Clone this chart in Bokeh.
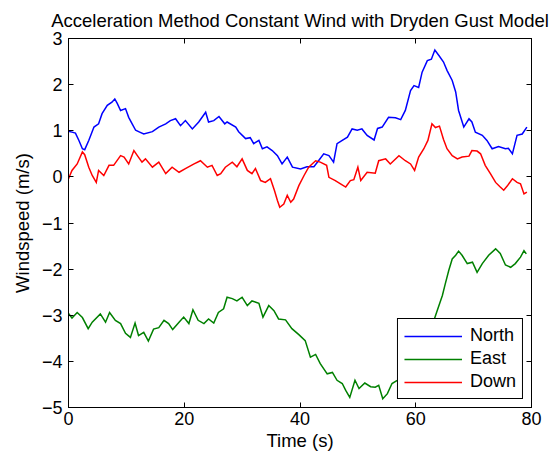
from bokeh.plotting import figure
from bokeh.models import (Range1d, FixedTicker, LinearAxis, Legend, LegendItem,
                          CustomJSTickFormatter)
from bokeh.embed import file_html
from bokeh.resources import INLINE

# Wind components (m/s) sampled along the time axis (s)
t_north = [0, 0.6, 1.2, 1.8, 2.4, 2.8, 3.5, 4.0, 4.4, 5.2, 5.8, 6.7, 7.5, 8.0, 8.4,
           9.0, 9.85, 10.4, 11.0, 11.6, 12.3, 13.0, 14.5, 15.6, 16.8, 17.6, 18.5,
           19.35, 20.2, 21.4, 22.5, 23.7, 24.2, 25.1, 26.0, 27.0, 27.4, 28.9, 29.4,
           30.6, 31.4, 32.0, 32.9, 33.5, 34.3, 35.2, 36.1, 36.9, 37.8, 38.7, 40.1,
           41.2, 42.4, 43.2, 44.1, 45.0, 45.8, 46.4, 47.3, 48.2, 49.0, 49.9, 50.7,
           51.6, 52.8, 53.4, 54.2, 55.3, 56.5, 57.4, 58.2, 59.1, 59.7, 60.5, 61.1,
           62.0, 62.7, 63.3, 64.0, 64.8, 65.4, 66.3, 66.9, 67.4, 68.3, 69.2, 69.7,
           70.3, 71.5, 72.3, 73.2, 74.3, 75.5, 76.0, 76.7, 77.5, 78.4, 79.2]
north = [0.99, 0.97, 0.95, 0.79, 0.61, 0.59, 0.79, 0.95, 1.08, 1.15, 1.37, 1.55, 1.62,
         1.69, 1.60, 1.44, 1.48, 1.29, 1.15, 1.01, 0.97, 0.93, 0.98, 1.08, 1.15, 1.22,
         1.26, 1.11, 1.22, 1.04, 1.19, 1.40, 1.19, 1.22, 1.31, 1.15, 1.19, 1.08, 0.98,
         0.83, 0.85, 0.72, 0.79, 0.61, 0.65, 0.57, 0.46, 0.28, 0.43, 0.21, 0.17, 0.22,
         0.22, 0.35, 0.50, 0.46, 0.32, 0.72, 0.79, 0.86, 1.04, 1.01, 1.04, 0.90, 0.80,
         1.05, 1.08, 1.29, 1.28, 1.24, 1.44, 1.87, 1.98, 1.94, 2.27, 2.52, 2.55, 2.75,
         2.63, 2.49, 2.31, 2.09, 1.84, 1.44, 1.08, 1.26, 1.19, 0.97, 0.90, 0.79, 0.61,
         0.66, 0.61, 0.62, 0.50, 0.90, 0.93, 1.08]

t_east = [0, 0.6, 1.5, 2.4, 3.4, 4.1, 5.5, 6.4, 7.1, 8.1, 9.0, 9.85, 10.7, 11.5, 12.1,
          13.0, 13.8, 14.7, 15.6, 16.5, 17.3, 18.0, 19.1, 19.9, 20.8, 21.5, 22.4, 23.4,
          24.2, 25.1, 25.9, 26.8, 27.4, 28.3, 29.1, 30.0, 30.9, 31.7, 32.9, 33.6, 34.6,
          35.5, 36.3, 37.5, 38.6, 39.8, 40.9, 41.8, 42.7, 43.5, 44.7, 45.6, 46.4, 47.3,
          47.9, 48.6, 49.5, 50.2, 51.2, 52.2, 53.0, 53.6, 54.3, 55.1, 55.9, 56.8, 58.0,
          59.0, 60.0, 61.0, 62.0, 62.9, 63.7, 64.6, 65.1, 65.7, 66.3, 66.9, 67.4, 68.0,
          68.9, 69.8, 70.6, 71.5, 72.6, 73.8, 74.6, 75.5, 76.4, 77.2, 78.1, 78.7, 79.1]
east = [-2.96, -3.06, -2.94, -3.05, -3.29, -3.15, -2.97, -3.15, -2.94, -3.11, -3.18,
        -3.39, -3.48, -3.17, -3.44, -3.37, -3.56, -3.30, -3.27, -3.11, -3.18, -3.31,
        -3.15, -3.04, -3.18, -2.88, -3.11, -3.18, -3.08, -3.17, -2.94, -2.86, -2.61,
        -2.64, -2.69, -2.61, -2.79, -2.69, -2.74, -3.04, -2.79, -2.90, -3.08, -3.10,
        -3.29, -3.42, -3.55, -3.91, -3.85, -4.05, -4.27, -4.24, -4.41, -4.48, -4.63,
        -4.78, -4.41, -4.59, -4.47, -4.55, -4.56, -4.52, -4.81, -4.70, -4.48, -4.41,
        -4.30, -4.10, -3.90, -3.70, -3.45, -3.20, -2.90, -2.57, -2.32, -2.03, -1.78,
        -1.70, -1.61, -1.70, -1.88, -1.85, -2.07, -1.88, -1.70, -1.56, -1.66, -1.91,
        -1.96, -1.88, -1.74, -1.60, -1.67]

t_down = [0, 0.6, 1.5, 2.4, 2.8, 3.5, 4.1, 4.8, 5.2, 6.1, 7.0, 7.8, 9.0, 9.6, 10.4,
          11.3, 11.9, 12.7, 13.3, 14.5, 15.6, 16.8, 17.9, 19.1, 20.2, 21.7, 22.8, 24.0,
          24.8, 25.7, 26.3, 27.1, 28.3, 29.1, 30.0, 30.9, 31.7, 32.3, 33.2, 34.0, 34.9,
          35.6, 36.1, 36.5, 37.2, 37.8, 38.4, 38.9, 39.8, 40.7, 41.5, 42.7, 43.5, 44.6,
          45.0, 46.1, 47.0, 47.9, 48.7, 49.3, 50.0, 50.5, 51.6, 53.0, 53.6, 54.8, 55.6,
          57.1, 58.2, 59.1, 59.8, 60.5, 61.4, 62.1, 62.8, 63.4, 64.1, 64.8, 65.4, 66.3,
          67.2, 68.0, 69.2, 69.7, 70.6, 71.2, 72.0, 72.9, 73.8, 74.6, 75.2, 75.8, 76.7,
          77.5, 78.1, 78.7, 79.2]
down = [-0.04, 0.14, 0.28, 0.54, 0.48, 0.21, 0.03, -0.12, 0.14, 0.03, 0.25, 0.25, 0.46,
        0.43, 0.28, 0.57, 0.46, 0.32, 0.39, 0.21, 0.32, 0.07, 0.21, 0.10, 0.18, 0.28,
        0.35, 0.21, 0.25, 0.03, 0.07, 0.21, 0.32, 0.22, 0.39, 0.14, 0.07, 0.18, -0.08,
        -0.12, -0.04, -0.30, -0.51, -0.66, -0.59, -0.40, -0.55, -0.48, -0.19, 0.03,
        0.21, 0.35, 0.32, 0.25, -0.01, -0.08, -0.15, -0.22, -0.08, -0.06, 0.21, -0.08,
        0.10, 0.08, 0.35, 0.39, 0.28, 0.46, 0.35, 0.28, 0.14, 0.43, 0.61, 0.79, 1.15,
        1.07, 1.10, 0.81, 0.61, 0.46, 0.39, 0.43, 0.45, 0.57, 0.56, 0.50, 0.25, 0.07,
        -0.12, -0.22, -0.29, -0.20, -0.04, -0.12, -0.15, -0.37, -0.33]

series_names = ["North", "East", "Down"]
series_colors = ["#0000ff", "#008000", "#ff0000"]

x_ticks = [0, 20, 40, 60, 80]
y_ticks = [-5, -4, -3, -2, -1, 0, 1, 2, 3]
y_tick_labels = ["\u22125", "\u22124", "\u22123", "\u22122", "\u22121", "0", "1", "2", "3"]

FONT = "Liberation Sans"

p = figure(width=555, height=456, output_backend="svg", toolbar_location=None,
           x_range=Range1d(0, 80), y_range=Range1d(-5, 3),
           min_border_left=68, min_border_right=24, min_border_top=38,
           min_border_bottom=49,
           title="Acceleration Method Constant Wind with Dryden Gust Model",
           x_axis_label="Time (s)", y_axis_label="Windspeed (m/s)")

p.background_fill_color = "white"
p.border_fill_color = "white"
p.outline_line_color = "black"
p.outline_line_alpha = 1
p.grid.visible = False

p.title.text_font = FONT
p.title.text_font_size = "18.5px"
p.title.text_font_style = "normal"
p.title.align = "center"
p.title.text_color = "black"
p.title.standoff = 15

def style_axis(ax):
    ax.axis_line_color = "black"
    ax.major_tick_in = 5
    ax.major_tick_out = 0
    ax.major_tick_line_color = "black"
    ax.minor_tick_line_color = None
    ax.major_label_text_font = FONT
    ax.major_label_text_font_size = "18px"
    ax.major_label_text_color = "black"
    ax.axis_label_text_font = FONT
    ax.axis_label_text_font_size = "18.5px"
    ax.axis_label_text_font_style = "normal"
    ax.axis_label_text_color = "black"

p.xaxis.ticker = FixedTicker(ticks=x_ticks)
p.yaxis.ticker = FixedTicker(ticks=y_ticks)
p.yaxis.major_label_overrides = {v: s for v, s in zip(y_ticks, y_tick_labels)}
for ax in p.xaxis + p.yaxis:
    style_axis(ax)
p.xaxis.major_label_standoff = 4
p.xaxis.axis_label_standoff = 2
p.yaxis.major_label_standoff = 6
p.yaxis.axis_label_standoff = 6

# Mirror ticks on the top and right edges of the box
blank = CustomJSTickFormatter(code="return ''")
top_ax = LinearAxis(ticker=FixedTicker(ticks=x_ticks), formatter=blank)
right_ax = LinearAxis(ticker=FixedTicker(ticks=y_ticks), formatter=blank)
for ax in (top_ax, right_ax):
    style_axis(ax)
    ax.major_label_standoff = 0
p.add_layout(top_ax, "above")
p.add_layout(right_ax, "right")

renderers = []
for ts, vs, color in zip([t_north, t_east, t_down], [north, east, down], series_colors):
    r = p.line(ts, vs, line_color=color, line_width=1.5, line_join="miter")
    renderers.append(r)

legend = Legend(items=[LegendItem(label=n, renderers=[r]) for n, r in zip(series_names, renderers)],
                location="bottom_right", glyph_width=58, glyph_height=20,
                label_standoff=8, label_height=20, padding=6, spacing=2, margin=8,
                border_line_color="black", border_line_width=1, border_line_alpha=1,
                background_fill_color="white", background_fill_alpha=1,
                label_text_font=FONT, label_text_font_size="18px",
                label_text_color="black")
p.add_layout(legend)

open("out.html", "w").write(file_html(p, INLINE))
